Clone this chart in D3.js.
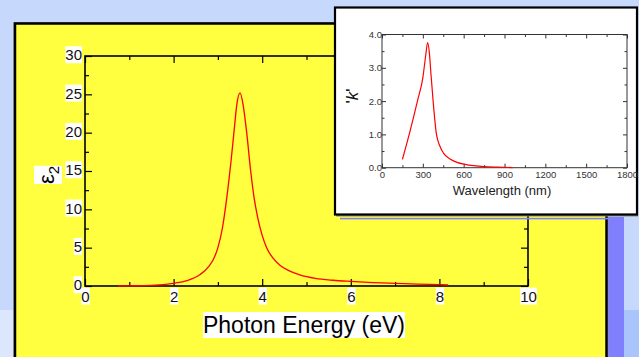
<!DOCTYPE html>
<html>
<head>
<meta charset="utf-8">
<script src="https://cdn.jsdelivr.net/npm/d3@7"></script>
<style>
  body { margin: 0; background: #c6d8fb; }
  svg { display: block; font-family: Arial, "Liberation Sans", sans-serif; }
</style>
</head>
<body>
<div id="chart"></div>
<script>
// Main curve: imaginary dielectric function vs photon energy
const energy = [0.75, 1.0, 1.5, 2.0, 2.3, 2.6, 2.8, 2.9, 3.0, 3.1, 3.2, 3.3, 3.37, 3.43, 3.5,
                3.57, 3.65, 3.74, 3.82, 3.9, 4.0, 4.1, 4.25, 4.4, 4.6, 4.85, 5.2, 5.6, 6.0, 6.5, 7.0, 7.5, 8.2];
const eps2 = [0.0, 0.02, 0.08, 0.35, 0.7, 1.5, 2.6, 3.5, 5.0, 7.5, 11.5, 16.5, 20.5, 23.8, 25.2,
              23.6, 20.0, 15.0, 11.4, 8.9, 6.6, 5.0, 3.6, 2.7, 2.0, 1.45, 1.0, 0.75, 0.6, 0.45, 0.35, 0.25, 0.15];

// Inset curve: extinction coefficient vs wavelength
const wavelength = [150, 208, 262, 300, 322, 335, 348, 360, 375, 399, 425, 453, 500, 551, 610, 673, 750, 850, 960];
const kVal = [0.25, 1.13, 2.03, 2.7, 3.4, 3.76, 3.45, 2.8, 2.03, 1.03, 0.65, 0.43, 0.26, 0.16, 0.1, 0.06, 0.03, 0.015, 0.005];

const xTicks = [0, 2, 4, 6, 8, 10];
const xMinor = [1, 3, 5, 7, 9];
const yTicks = [0, 5, 10, 15, 20, 25, 30];
const yMinor = [2.5, 7.5, 12.5, 17.5, 22.5, 27.5];
const wTicks = [0, 300, 600, 900, 1200, 1500, 1800];
const wMinor = [150, 450, 750, 1050, 1350, 1650];
const kTicks = [0, 1, 2, 3, 4];
const kMinor = [0.5, 1.5, 2.5, 3.5];

const W = 639, H = 357;
const svg = d3.select("#chart").append("svg")
    .attr("width", W)
    .attr("height", H);

// Background blocks
svg.append("rect").attr("x", 0).attr("y", 0).attr("width", W).attr("height", H).attr("fill", "#c6d8fb");
svg.append("rect").attr("x", 0).attr("y", 310).attr("width", 20).attr("height", 47).attr("fill", "#dce6fc");
svg.append("rect").attr("x", 624).attr("y", 310).attr("width", 15).attr("height", 47).attr("fill", "#aac4fc");
svg.append("rect").attr("x", 607).attr("y", 217).attr("width", 17).attr("height", 140).attr("fill", "#8080ff");

// Yellow panel
svg.append("rect").attr("x", 13.3).attr("y", 22).attr("width", 595).attr("height", 345).attr("fill", "#999");
svg.append("rect")
    .attr("x", 15).attr("y", 23.5).attr("width", 591.5).attr("height", 345)
    .attr("fill", "#ffff40").attr("stroke", "#000").attr("stroke-width", 2.5);

// Helper: white boxes behind labels
function backText(sel) {
    sel.each(function() {
        const b = this.getBBox();
        const tr = this.getAttribute("transform");
        d3.select(this.parentNode).insert("rect", () => this)
            .attr("x", b.x).attr("y", b.y).attr("width", b.width).attr("height", b.height)
            .attr("transform", tr)
            .attr("fill", "#fff");
    });
}

// ---- Main chart ----
const m = { left: 85, right: 528, top: 56, bottom: 286 };
const x = d3.scaleLinear().domain([0, 10]).range([m.left, m.right]);
const y = d3.scaleLinear().domain([0, 30]).range([m.bottom, m.top]);

const main = svg.append("g");

function styleAxis(g, col, w) {
    g.select(".domain").remove();
    g.selectAll("line").attr("stroke", col).attr("stroke-width", w);
}

main.append("g").attr("transform", `translate(0,${m.bottom})`)
    .call(d3.axisBottom(x).tickValues(xMinor).tickSize(-4).tickFormat(""))
    .call(g => styleAxis(g, "#000", 1.2));
main.append("g").attr("transform", `translate(0,${m.top})`)
    .call(d3.axisTop(x).tickValues(xMinor).tickSize(-4).tickFormat(""))
    .call(g => styleAxis(g, "#000", 1.2));
main.append("g").attr("transform", `translate(0,${m.top})`)
    .call(d3.axisTop(x).tickValues(xTicks).tickSize(-7).tickFormat(""))
    .call(g => styleAxis(g, "#000", 1.2));
main.append("g").attr("transform", `translate(${m.left},0)`)
    .call(d3.axisLeft(y).tickValues(yMinor).tickSize(-4).tickFormat(""))
    .call(g => styleAxis(g, "#000", 1.2));
main.append("g").attr("transform", `translate(${m.right},0)`)
    .call(d3.axisRight(y).tickValues(yMinor).tickSize(-4).tickFormat(""))
    .call(g => styleAxis(g, "#000", 1.2));
main.append("g").attr("transform", `translate(${m.right},0)`)
    .call(d3.axisRight(y).tickValues(yTicks).tickSize(-7).tickFormat(""))
    .call(g => styleAxis(g, "#000", 1.2));

const xAxis = main.append("g").attr("transform", `translate(0,${m.bottom})`)
    .call(d3.axisBottom(x).tickValues(xTicks).tickSize(-7).tickPadding(5));
styleAxis(xAxis, "#000", 1.2);
xAxis.selectAll("text").attr("font-size", 15).attr("fill", "#111").attr("font-family", "Arial, 'Liberation Sans'");

const yAxis = main.append("g").attr("transform", `translate(${m.left},0)`)
    .call(d3.axisLeft(y).tickValues(yTicks).tickSize(-7).tickPadding(3));
styleAxis(yAxis, "#000", 1.2);
yAxis.selectAll("text").attr("font-size", 15).attr("fill", "#111").attr("dy", "0.25em")
    .attr("font-family", "Arial, 'Liberation Sans'");

// frame
main.append("rect")
    .attr("x", m.left).attr("y", m.top)
    .attr("width", m.right - m.left).attr("height", m.bottom - m.top)
    .attr("fill", "none").attr("stroke", "#000").attr("stroke-width", 1.6);

backText(xAxis.selectAll("text"));
backText(yAxis.selectAll("text"));

main.append("path")
    .datum(energy.map((e, i) => [e, eps2[i]]))
    .attr("fill", "none")
    .attr("stroke", "#ff0000")
    .attr("stroke-width", 1.3)
    .attr("d", d3.line().x(d => x(d[0])).y(d => y(d[1])).curve(d3.curveMonotoneX));

const xTitle = main.append("text")
    .attr("x", 304).attr("y", 333)
    .attr("text-anchor", "middle")
    .attr("font-size", 23)
    .attr("fill", "#000")
    .text("Photon Energy (eV)");
backText(xTitle);

const yTitle = main.append("text")
    .attr("transform", "translate(54,184) rotate(-90)")
    .attr("font-size", 22)
    .attr("fill", "#000");
yTitle.append("tspan").text("\u03b5");
yTitle.append("tspan").attr("font-size", 15).attr("dy", 5).text("2");
backText(yTitle);

// ---- Inset ----
// shadow + blue line
svg.append("rect").attr("x", 340).attr("y", 217.8).attr("width", 268).attr("height", 1.6).attr("fill", "#8080ff");
svg.append("rect").attr("x", 336).attr("y", 9).attr("width", 302).attr("height", 207.5).attr("fill", "#888");
svg.append("rect")
    .attr("x", 335).attr("y", 7.5).attr("width", 302).attr("height", 207)
    .attr("fill", "#fff").attr("stroke", "#000").attr("stroke-width", 2.2);

const n = { left: 382, right: 627, top: 34.5, bottom: 167.7 };
const xi = d3.scaleLinear().domain([0, 1800]).range([n.left, n.right]);
const yi = d3.scaleLinear().domain([0, 4]).range([n.bottom, n.top]);
const ins = svg.append("g");
const gc = "#333";

ins.append("g").attr("transform", `translate(0,${n.bottom})`)
    .call(d3.axisBottom(xi).tickValues(wMinor).tickSize(-2.5).tickFormat(""))
    .call(g => styleAxis(g, gc, 1));
ins.append("g").attr("transform", `translate(0,${n.top})`)
    .call(d3.axisTop(xi).tickValues(wMinor).tickSize(-2.5).tickFormat(""))
    .call(g => styleAxis(g, gc, 1));
ins.append("g").attr("transform", `translate(0,${n.top})`)
    .call(d3.axisTop(xi).tickValues(wTicks).tickSize(-4).tickFormat(""))
    .call(g => styleAxis(g, gc, 1));
ins.append("g").attr("transform", `translate(${n.left},0)`)
    .call(d3.axisLeft(yi).tickValues(kMinor).tickSize(-2.5).tickFormat(""))
    .call(g => styleAxis(g, gc, 1));
ins.append("g").attr("transform", `translate(${n.right},0)`)
    .call(d3.axisRight(yi).tickValues(kMinor).tickSize(-2.5).tickFormat(""))
    .call(g => styleAxis(g, gc, 1));
ins.append("g").attr("transform", `translate(${n.right},0)`)
    .call(d3.axisRight(yi).tickValues(kTicks).tickSize(-4).tickFormat(""))
    .call(g => styleAxis(g, gc, 1));

const xiAxis = ins.append("g").attr("transform", `translate(0,${n.bottom})`)
    .call(d3.axisBottom(xi).tickValues(wTicks).tickSize(-4).tickPadding(3.5).tickFormat(d3.format("d")));
styleAxis(xiAxis, gc, 1);
xiAxis.selectAll("text").attr("font-size", 9.5).attr("fill", gc).attr("font-family", "Arial, 'Liberation Sans'");

const yiAxis = ins.append("g").attr("transform", `translate(${n.left},0)`)
    .call(d3.axisLeft(yi).tickValues(kTicks).tickSize(-4).tickPadding(0).tickFormat(d3.format(".1f")));
styleAxis(yiAxis, gc, 1);
yiAxis.selectAll("text").attr("font-size", 9.5).attr("fill", gc).attr("font-family", "Arial, 'Liberation Sans'");

ins.append("rect")
    .attr("x", n.left).attr("y", n.top)
    .attr("width", n.right - n.left).attr("height", n.bottom - n.top)
    .attr("fill", "none").attr("stroke", gc).attr("stroke-width", 1);

ins.append("path")
    .datum(wavelength.map((w, i) => [w, kVal[i]]))
    .attr("fill", "none")
    .attr("stroke", "#ff0000")
    .attr("stroke-width", 1.2)
    .attr("d", d3.line().x(d => xi(d[0])).y(d => yi(d[1])).curve(d3.curveMonotoneX));

ins.append("text")
    .attr("x", 502).attr("y", 195)
    .attr("text-anchor", "middle")
    .attr("font-size", 13)
    .attr("fill", "#222")
    .text("Wavelength (nm)");

const kTitle = ins.append("text")
    .attr("transform", "translate(358,96) rotate(-90)")
    .attr("text-anchor", "middle")
    .attr("font-size", 17)
    .attr("fill", "#111");
kTitle.append("tspan").text("'");
kTitle.append("tspan").attr("font-style", "italic").text("k");
kTitle.append("tspan").text("'");
</script>
</body>
</html>
